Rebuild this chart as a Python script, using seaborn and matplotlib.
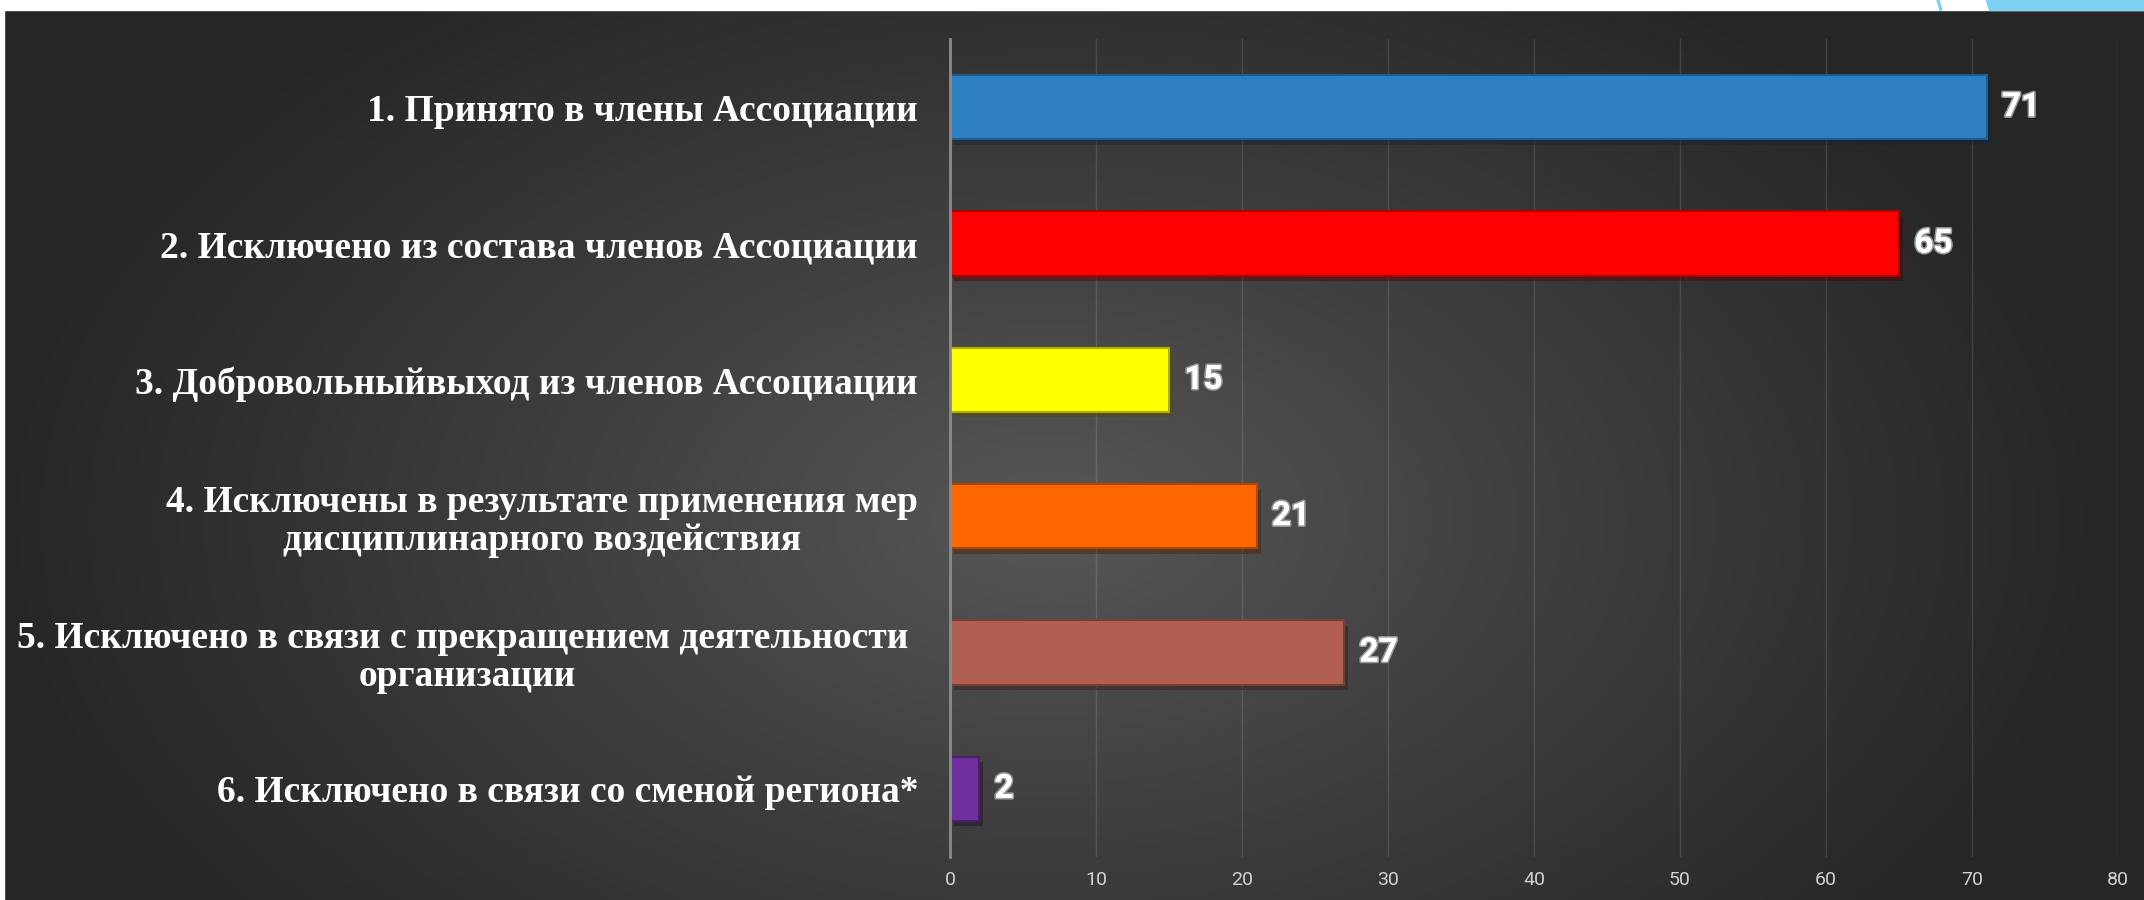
import numpy as np
import seaborn as sns
import matplotlib.pyplot as plt
import matplotlib.patheffects as pe
from matplotlib.patches import Rectangle, Polygon

# данные
categories = [
    "1. Принято в члены Ассоциации",
    "2. Исключено из состава членов Ассоциации",
    "3. Добровольныйвыход из членов Ассоциации",
    "4. Исключены в результате применения мер\nдисциплинарного воздействия",
    "5. Исключено в связи с прекращением деятельности \nорганизации",
    "6. Исключено в связи со сменой региона*",
]
values = [71, 65, 15, 21, 27, 2]
colors = ["#2E80C3", "#FF0000", "#FFFF00", "#FF6600", "#B05F50", "#7030A0"]
edges = ["#1F5C8E", "#B00000", "#B0B000", "#B04600", "#7A3E33", "#4A1F6B"]
xticks = [0, 10, 20, 30, 40, 50, 60, 70, 80]

W, H = 2144, 900
fig = plt.figure(figsize=(W / 100, H / 100), dpi=100)

# фон: радиальный градиент
bg = fig.add_axes([0, 0, 1, 1], zorder=-10)
yy, xx = np.mgrid[0:H, 0:W]
d = np.sqrt(((xx - 1050) / 1050) ** 2 + ((yy - 520) / 650) ** 2)
v = 0.345 - (0.345 - 0.15) * np.clip(d, 0, 1) ** 0.9
img = np.dstack([v, v, v])
bg.imshow(img, aspect="auto", extent=[0, W, H, 0])
bg.set_axis_off()

# белые полосы и голубой уголок
fig.patches.append(Rectangle((0, 1 - 10 / H), 1, 10 / H, transform=fig.transFigure,
                             color="white", zorder=5))
fig.patches.append(Rectangle((0, 0), 4 / W, 1, transform=fig.transFigure,
                             color="white", zorder=5))
fig.patches.append(Polygon([(1986 / W, 1), (1, 1), (1, 1 - 10 / H), (1989 / W, 1 - 10 / H)],
                           closed=True, transform=fig.transFigure, color="#7DD0EF", zorder=6))
fig.patches.append(Polygon([(1937 / W, 1), (1939 / W, 1), (1942 / W, 1 - 10 / H), (1940 / W, 1 - 10 / H)],
                           closed=True, transform=fig.transFigure, color="#7DD0EF", zorder=6))

ax = fig.add_axes([950 / W, 1 - 857 / H, 1168 / W, 818 / H])
ax.set_facecolor("none")

sns.barplot(x=values, y=categories, hue=categories, palette=colors, orient="h",
            width=0.47, saturation=1, legend=False, ax=ax, zorder=3)

for bar, ec in zip(ax.patches, edges):
    bar.set_edgecolor(ec)
    bar.set_linewidth(1.5)
    bar.set_path_effects([pe.SimplePatchShadow(offset=(3, -4), alpha=0.45), pe.Normal()])

for cont in ax.containers:
    txts = ax.bar_label(cont, padding=11, color="white", fontsize=24,
                        fontweight="bold", family="Roboto")
    for t in txts:
        t.set_path_effects([pe.withStroke(linewidth=2.5, foreground="#9a9a9a"), pe.Normal()])

ax.set_xlim(0, 80)
ax.set_ylim(5.5, -0.5)
ax.set_xticks(xticks)
ax.set_xlabel("")
ax.set_ylabel("")
ax.grid(axis="x", color="white", alpha=0.12, lw=1)
ax.grid(axis="y", visible=False)
ax.set_axisbelow(True)
for s in ["top", "right", "bottom"]:
    ax.spines[s].set_visible(False)
ax.spines["left"].set_color("#8c8c8c")
ax.spines["left"].set_linewidth(2)
ax.spines["left"].set_zorder(4)

ax.tick_params(axis="x", length=0, pad=10, labelsize=14, labelcolor="#d0d0d0")
ax.tick_params(axis="y", length=0, pad=23)
for lab in ax.get_xticklabels():
    lab.set_family("Roboto")
for lab in ax.get_yticklabels():
    lab.set_family("Liberation Serif")
    lab.set_fontweight("bold")
    lab.set_fontsize(27)
    lab.set_color("white")
    lab.set_multialignment("center")
    lab.set_linespacing(1.1)

fig.savefig("out.png", dpi=100)
